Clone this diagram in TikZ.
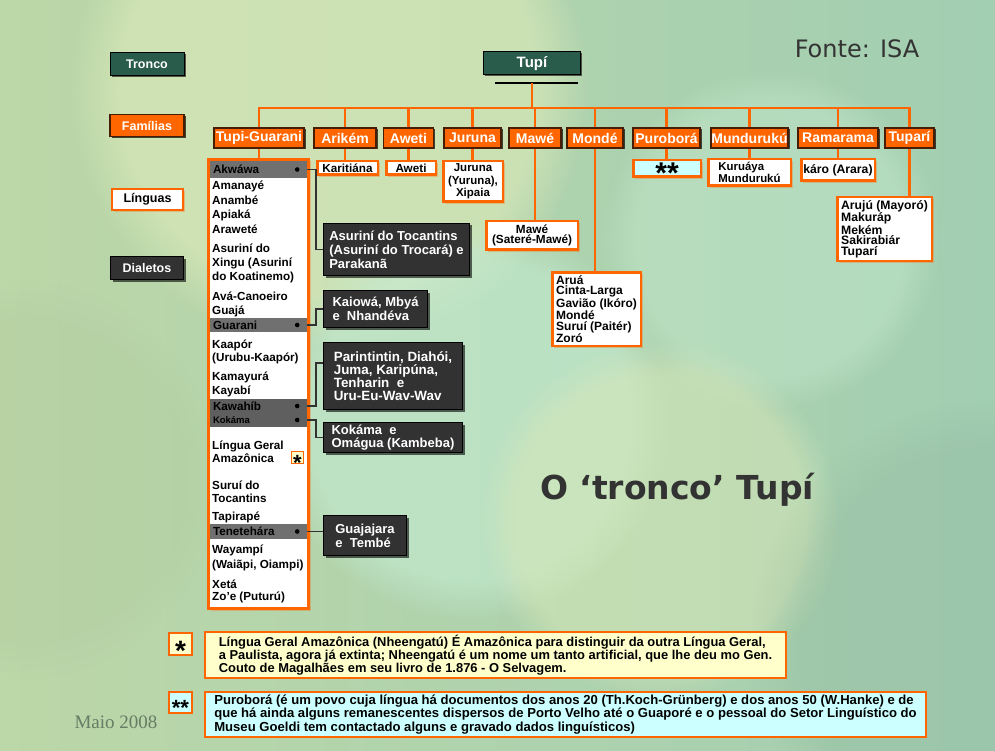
\documentclass[tikz,border=0pt]{standalone}
\usepackage{fontspec}
\setmainfont{Liberation Sans}
\newfontfamily\comicfont{DejaVu Sans}
\newfontfamily\datefont{Liberation Serif}
\usetikzlibrary{positioning,shadows,fadings}
\definecolor{cOrange}{RGB}{255,102,0}
\definecolor{cBrown}{RGB}{70,30,5}
\definecolor{cTrunk}{RGB}{42,92,76}
\definecolor{cDial}{RGB}{50,50,50}
\definecolor{cBar}{RGB}{112,112,112}
\definecolor{cNoteY}{RGB}{255,255,204}
\definecolor{cNoteC}{RGB}{204,255,255}
\definecolor{cBgA}{RGB}{188,215,168}
\definecolor{cBgB}{RGB}{162,206,178}
\definecolor{cDate}{RGB}{100,125,100}

\begin{document}
\begin{tikzpicture}[x=1pt,y=-1pt,
   trunk/.style={draw=black,line width=1pt,fill=cTrunk,text=white,inner sep=0pt,font=\fontsize{12.5}{13}\selectfont\bfseries,drop shadow={shadow xshift=1.5pt,shadow yshift=-1.5pt,fill=black,opacity=.6}},
   fam/.style={draw=cBrown,line width=1.5pt,fill=cOrange,text=white,inner sep=0pt,minimum height=20,font=\fontsize{14}{15}\selectfont\bfseries,drop shadow={shadow xshift=1.5pt,shadow yshift=-1.5pt,fill=black,opacity=.7}},
   lang/.style={draw=cOrange,line width=2.5pt,fill=white,inner sep=0pt,align=center,font=\fontsize{11.7}{11.7}\selectfont\bfseries,drop shadow={shadow xshift=2pt,shadow yshift=-2pt,fill=cOrange,opacity=.3}},
   langlist/.style={lang,align=left,font=\fontsize{12}{10.6}\selectfont\bfseries},
   dial/.style={draw=black,line width=1pt,fill=cDial,text=white,align=left,inner sep=0pt,font=\fontsize{13}{14}\selectfont\bfseries,drop shadow={shadow xshift=2pt,shadow yshift=-2pt,fill=black,opacity=.6}},
   bar/.style={fill=cBar,minimum width=97,text width=91pt,inner xsep=3pt,inner ysep=0pt,align=left,font=\fontsize{11.7}{12}\selectfont\bfseries},
   item/.style={anchor=west,inner sep=0pt,font=\fontsize{11.7}{13}\selectfont\bfseries},
   starbox/.style={draw=cOrange,line width=1.5pt,inner sep=0pt,font=\bfseries},
   note/.style={draw=cOrange,line width=1.5pt,align=left,inner sep=0pt,font=\fontsize{12.9}{11}\selectfont\bfseries},
   tree/.style={draw=cOrange,line width=2.5pt},
   dline/.style={draw=cDial,line width=1.8pt}]
  \useasboundingbox (0,0) rectangle (995,751);
  % background
  \begin{scope}
    \clip (0,0) rectangle (995,751);
    \shade[left color=cBgA,right color=cBgB] (0,0) rectangle (995,751);
    \fill[cNoteY!50!cBgA,opacity=.6,path fading=circle with fuzzy edge 20 percent] (330,90) circle (260);
    \fill[cNoteC!50!cBgA,opacity=.6,path fading=circle with fuzzy edge 20 percent] (470,420) circle (200);
    \fill[cNoteC!40!cBgA,opacity=.5,path fading=circle with fuzzy edge 20 percent] (770,240) circle (170);
    \fill[cNoteY!45!cBgA,opacity=.5,path fading=circle with fuzzy edge 20 percent] (660,520) circle (180);
    \fill[cBgB!85!black,opacity=.25,path fading=circle with fuzzy edge 20 percent] (990,640) circle (240);
    \fill[cBgA!90!black,opacity=.2,path fading=circle with fuzzy edge 20 percent] (20,480) circle (200);
  \end{scope}

  % legend
  \node[trunk,minimum width=74,minimum height=23] (lgTronco) at (147,64.5) {Tronco};
  \node[fam,minimum width=74,minimum height=22,font=\fontsize{12.5}{13}\selectfont\bfseries] (lgFam) at (147,125.5) {Famílias};
  \node[lang,minimum width=71,minimum height=21,font=\fontsize{12.5}{13}\selectfont\bfseries] (lgLing) at (147.5,199.5) {Línguas};
  \node[dial,minimum width=73,minimum height=23,align=center,font=\fontsize{12.5}{13}\selectfont\bfseries] (lgDial) at (147,268) {Dialetos};

  % trunk and families
  \node[trunk,minimum width=97,minimum height=23,font=\fontsize{15}{16}\selectfont\bfseries] (tupi) at (532,63.5) {Tupí};
  \coordinate (ulA) at (495,83);
  \coordinate (ulB) at (578,83);
  \coordinate (rail) at (0,108);
  \foreach \n/\x/\w/\t in {TG/259/90/Tupi-Guarani,Ari/345/62/Arikém,Awe/408.5/50/Aweti,Jur/472.5/57/Juruna,Maw/535/52/Mawé,Mon/595/56/Mondé,Pur/666.5/67/Puroborá,Mun/749.5/77/Mundurukú,Ram/838/80/Ramarama,Tup/909.5/49/Tuparí}
    \node[fam,minimum width=\w] (f\n) at (\x,138) {\t};

  % languages
  \node[lang,minimum width=60.5,minimum height=13.5] (lAri) at (347.5,168) {Karitiána};
  \node[lang,minimum width=49.5,minimum height=13.5] (lAwe) at (411,168) {Aweti};
  \node[lang,minimum width=59.5,minimum height=40.5,font=\fontsize{11.5}{12.5}\selectfont\bfseries] (lJur) at (473,181.5) {Juruna\\(Yuruna),\\Xipaia};
  \node[lang,minimum width=91.5,minimum height=28.5,font=\fontsize{11.8}{10.5}\selectfont\bfseries] (lMaw) at (532,235.5) {Mawé\\(Sateré-Mawé)};
  \node[langlist,minimum width=88.5,minimum height=73.5] (lMon) at (596.5,309) {Aruá\\Cinta-Larga\\Gavião (Ikóro)\\Mondé\\Suruí (Paitér)\\Zoró};
  \node[lang,fill=cNoteC,minimum width=67.5,minimum height=16.5,font=\fontsize{30}{30}\selectfont\bfseries] (lPur) at (667,168.5) {\smash{\raisebox{-.5em}{**}}};
  \node[langlist,minimum width=82.5,minimum height=26.5,font=\fontsize{11.4}{10}\selectfont\bfseries] (lMun) at (749.5,172.5) {Kuruáya\\Mundurukú};
  \node[lang,minimum width=73.5,minimum height=21.5,font=\fontsize{12.2}{12}\selectfont\bfseries] (lRam) at (838,170) {káro (Arara)};
  \node[langlist,minimum width=94.5,minimum height=63.5,font=\fontsize{12.2}{10.5}\selectfont\bfseries] (lTup) at (884.5,229) {Arujú (Mayoró)\\Makuráp\\Mekém\\Sakirabiár\\Tuparí};

  % Tupi-Guarani column
  \node[lang,line width=3pt,minimum width=100,minimum height=449] (tgBox) at (258.5,384) {};
  \node[bar,minimum height=17] (bAkw) at (258.5,169.5) {Akwáwa};
  \node[bar,minimum height=14] (bGua) at (258.5,325) {Guarani};
  \node[bar,minimum height=14,fill=cBar!85!black] (bKaw) at (258.5,406) {Kawahíb};
  \node[bar,minimum height=14,fill=cBar!85!black,font=\fontsize{9.5}{10}\selectfont\bfseries] (bKok) at (258.5,420) {Kokáma};
  \node[bar,minimum height=15] (bTen) at (258.5,531.5) {Tenetehára};
  \foreach \b in {Akw,Gua,Kaw,Kok,Ten}
    \fill (b\b.east) ++(-10,0) circle (2.3);
  \foreach \y/\t [count=\k] in {186/Amanayé,200/Anambé,215/Apiaká,229/Araweté,248/Asuriní do,263/{Xingu (Asuriní},277/{do Koatinemo)},296/Avá-Canoeiro,311/Guajá,345/Kaapór,358/{(Urubu-Kaapór)},377/Kamayurá,391/Kayabí,446/Língua Geral,458/Amazônica,485/Suruí do,498/Tocantins,517/Tapirapé,550/Wayampí,565/{(Waiãpi, Oiampi)},584/Xetá,597/{Zo'e (Puturú)}}
    \node[item] (it\k) at (212,\y) {\t};
  \node[starbox,fill=cNoteY,minimum size=12,font=\fontsize{22}{22}\selectfont\bfseries] (astCol) at (297.5,457.5) {\smash{\raisebox{-.58em}{*}}};

  % dialects
  \node[dial,minimum width=146,minimum height=52] (dAsu) at (396.5,249.5) {Asuriní do Tocantins\\(Asuriní do Trocará) e\\Parakanã};
  \node[dial,minimum width=104,minimum height=37,font=\fontsize{13}{13.5}\selectfont\bfseries] (dKai) at (375.5,309) {Kaiowá, Mbyá\\e\ \ Nhandéva};
  \node[dial,minimum width=139,minimum height=67,font=\fontsize{13.4}{13}\selectfont\bfseries] (dPar) at (393,376) {Parintintin, Diahói,\\Juma, Karipúna,\\Tenharin\ \ e\\Uru-Eu-Wav-Wav};
  \node[dial,minimum width=139,minimum height=30,font=\fontsize{13}{13}\selectfont\bfseries] (dKok) at (393,437.5) {Kokáma\ \ e\\Omágua (Kambeba)};
  \node[dial,minimum width=83,minimum height=40,font=\fontsize{13}{14}\selectfont\bfseries] (dGua) at (365,535.5) {Guajajara\\e\ \ Tembé};

  % connectors
  \draw[line width=1.5pt] (ulA) -- (ulB);
  \draw[tree] (tupi.south |- ulA) -- (tupi.south |- rail);
  \draw[tree] (fTG.north) -- (fTG.north |- rail) -- (fTup.north |- rail) -- (fTup.north);
  \foreach \n in {Ari,Awe,Jur,Maw,Mon,Pur,Mun,Ram}
    \draw[tree] (f\n.north |- rail) -- (f\n.north);
  \foreach \n in {Ari,Awe,Jur,Maw,Mon,Pur,Mun,Ram,Tup}
    \draw[tree] (f\n.south) -- (f\n.south |- l\n.north);
  \draw[tree] (fTG.south) -- (fTG.south |- tgBox.north);
  \draw[dline] (bAkw.east) -- ++(9,0) |- (dAsu.west);
  \draw[dline] (bGua.east) -- ++(9,0) |- (dKai.west);
  \draw[dline] (bKaw.east) -- ++(9,0) |- ([yshift=13pt]dPar.west);
  \draw[dline] (bKok.east) -- ++(9,0) |- (dKok.west);
  \draw[dline] (bTen.east) -- (bTen.east -| dGua.west);

  % footnotes
  \node[starbox,fill=cNoteY,minimum width=23,minimum height=22,font=\fontsize{28}{28}\selectfont\bfseries] (ast1) at (180.5,644) {\smash{\raisebox{-.58em}{*}}};
  \node[note,fill=cNoteY,minimum width=581,minimum height=46] (note1) at (495.5,655) {Língua Geral Amazônica (Nheengatú) É Amazônica para distinguir da outra Língua Geral,\\a Paulista, agora já extinta; Nheengatú é um nome um tanto artificial, que lhe deu mo Gen.\\Couto de Magalhães em seu livro de 1.876 - O Selvagem.};
  \node[starbox,fill=cNoteC,minimum width=23,minimum height=21,font=\fontsize{22}{22}\selectfont\bfseries] (ast2) at (180.5,702.5) {\smash{\raisebox{-.58em}{**}}};
  \node[note,fill=cNoteC,minimum width=721,minimum height=45,font=\fontsize{13.1}{11.2}\selectfont\bfseries] (note2) at (565.5,714.5) {Puroborá (é um povo cuja língua há documentos dos anos 20 (Th.Koch-Grünberg) e dos anos 50 (W.Hanke) e de\\que há ainda alguns remanescentes dispersos de Porto Velho até o Guaporé e o pessoal do Setor Linguístico do\\Museu Goeldi tem contactado alguns e gravado dados linguísticos)};

  % titles
  \node[font=\comicfont\fontsize{24}{26}\selectfont,text=black!80] (source) at (857,49) {Fonte: ISA};
  \node[font=\comicfont\bfseries\fontsize{33}{35}\selectfont,text=black!80] (title) at (677,490) {O ‘tronco’ Tupí};
  \node[font=\datefont\fontsize{19}{21}\selectfont,text=cDate] (date) at (116,722) {Maio 2008};
\end{tikzpicture}
\end{document}
